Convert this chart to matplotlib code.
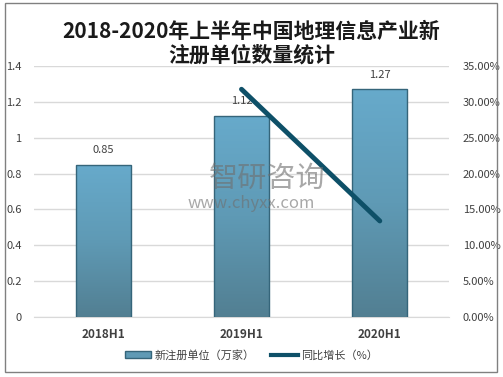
import numpy as np
import matplotlib.pyplot as plt
from matplotlib.lines import Line2D
from matplotlib.patches import Patch, Rectangle
from matplotlib.colors import LinearSegmentedColormap

plt.rcParams['font.family'] = ['Noto Sans CJK SC', 'DejaVu Sans']

categories = ['2018H1', '2019H1', '2020H1']
units = [0.85, 1.12, 1.27]          # 新注册单位（万家）
growth = [None, 0.3176, 0.1339]      # 同比增长

fig = plt.figure(figsize=(5.03, 3.77), dpi=100)
fig.patches.append(Rectangle((0.01, 0.012), 0.978, 0.98, transform=fig.transFigure,
                             fill=False, edgecolor='#808080', linewidth=1))

ax = fig.add_axes([0.0676, 0.1592, 0.825, 0.6657])
ax2 = ax.twinx()

x = np.arange(len(categories))
width = 0.40

# gradient bars
cmap = LinearSegmentedColormap.from_list('bar', ['#527f92', '#5f9ab5', '#67aacb'])
grad = np.linspace(0, 1, 256).reshape(-1, 1)
bars = ax.bar(x, units, width, color='none', edgecolor='#35657a', linewidth=1, zorder=3)
for b in bars:
    im = ax.imshow(grad, cmap=cmap, origin='lower', aspect='auto', zorder=2,
                   extent=[b.get_x(), b.get_x() + b.get_width(), 0, b.get_height()])
    im.set_clip_path(b)
ax.set_xlim(-0.5, 2.5)
ax.set_ylim(0, 1.4)

for xi, v in zip(x, units):
    ax.annotate(f'{v:g}', (xi, v), xytext=(0, 7), textcoords='offset points',
                ha='center', va='bottom', fontsize=8, color='#404040', zorder=5)

ax.set_yticks(np.arange(0, 1.41, 0.2))
ax.set_yticklabels(['0', '0.2', '0.4', '0.6', '0.8', '1', '1.2', '1.4'])
ax.set_xticks(x)
ax.set_xticklabels(categories, fontweight='bold')
ax.grid(axis='y', color='#d9d9d9', linewidth=1, zorder=0)
ax.set_axisbelow(True)

gx = [i for i, g in zip(x, growth) if g is not None]
gy = [g for g in growth if g is not None]
ax2.plot(gx, gy, color='#0e5068', linewidth=3.5, solid_capstyle='round', zorder=6)
ax2.set_ylim(0, 0.35)
ax2.set_yticks(np.arange(0, 0.351, 0.05))
ax2.set_yticklabels([f'{v*100:.2f}%' for v in np.arange(0, 0.351, 0.05)])

for a in (ax, ax2):
    for s in a.spines.values():
        s.set_visible(False)
    a.tick_params(length=0, labelsize=8, colors='#404040')
ax.spines['bottom'].set_visible(True)
ax.spines['bottom'].set_color('#d9d9d9')
ax.tick_params(axis='x', pad=8, labelsize=8.5)
ax.tick_params(axis='y', pad=9)
ax2.tick_params(axis='y', pad=10)

fig.text(0.5, 0.885, '2018-2020年上半年中国地理信息产业新\n注册单位数量统计', ha='center', va='center',
         fontsize=15, fontweight='bold', linespacing=1.15, color='#1a1a1a')

# watermark
fig.text(0.53, 0.525, '智研咨询', ha='center', va='center', fontsize=21, color='#6f6f6f', alpha=0.6, zorder=10)
fig.text(0.5, 0.46, 'www.chyxx.com', ha='center', va='center', fontsize=12, color='#6f6f6f', alpha=0.6, zorder=10)

handles = [Patch(facecolor='#5f9ab5', edgecolor='#35657a'),
           Line2D([0], [0], color='#0e5068', linewidth=3)]
fig.legend(handles, ['新注册单位（万家）', '同比增长（%）'], loc='center', bbox_to_anchor=(0.5, 0.058),
           ncol=2, frameon=False, fontsize=8, handlelength=2.4, handleheight=0.6, handletextpad=0.3,
           columnspacing=1.5, labelcolor='#404040')

fig.savefig('out.png', dpi=100)
